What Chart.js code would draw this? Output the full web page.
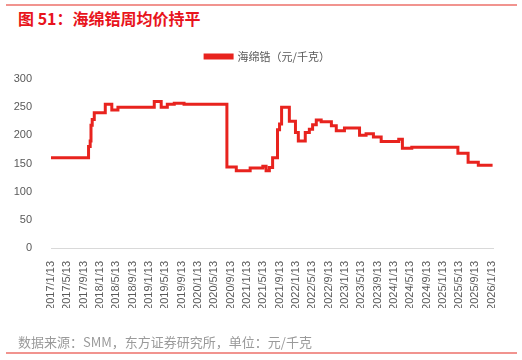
<!DOCTYPE html>
<html><head><meta charset="utf-8">
<script src="https://cdn.jsdelivr.net/npm/chart.js@4/dist/chart.umd.min.js"></script>
<style>
html,body{margin:0;padding:0;background:#fff;}
#wrap{position:relative;width:522px;height:360px;overflow:hidden;}
#c{position:absolute;left:0;top:0;}
.rule{position:absolute;left:6px;width:511px;height:2px;background:#f1948f;}
#title{position:absolute;left:18px;top:6px;font:bold 16px "Noto Sans CJK SC",sans-serif;color:#e8141c;white-space:nowrap;}
#src{position:absolute;left:18px;top:332px;font:13px "Noto Sans CJK SC",sans-serif;color:#9a9a9a;white-space:nowrap;}
</style></head>
<body><div id="wrap">
<div class="rule" style="top:4px"></div>
<div id="title">图 51：海绵锆周均价持平</div>
<canvas id="c" width="522" height="360"></canvas>
<div id="src">数据来源：SMM，东方证券研究所，单位：元/千克</div>
<div class="rule" style="top:352px"></div>
</div>
<script>
// months since 2017/1/13 where the price changes
const months = [0, 9.2, 9.6, 9.8, 10.1, 10.6, 13.3, 14.9, 16.4, 25.3, 27.0, 28.5, 30.2, 32.6,
  43.1, 45.4, 48.8, 51.9, 52.7, 53.5, 54.3, 55.5, 56.0, 56.5, 58.4, 59.9, 60.6, 62.3, 63.3,
  64.1, 65.0, 66.2, 68.7, 69.9, 71.9, 75.6, 77.2, 79.0, 80.9, 85.2, 86.1, 88.4, 99.7, 102.2,
  104.7, 108.2];
const prices = [160, 180, 190, 218, 228, 240, 255, 245, 250, 260, 250, 255, 257, 255,
  144, 137, 142, 145, 137, 143, 160, 210, 220, 250, 225, 205, 190, 205, 211,
  219, 227, 224, 217, 208, 213, 200, 203, 197, 189, 193, 177, 179, 168, 152,
  147, 147];
const tickMonths = [0,4,8,12,16,20,24,28,32,36,40,44,48,52,56,60,64,68,72,76,80,84,88,92,96,100,104,108];
const tickLabels = ["2017/1/13","2017/5/13","2017/9/13","2018/1/13","2018/5/13","2018/9/13",
  "2019/1/13","2019/5/13","2019/9/13","2020/1/13","2020/5/13","2020/9/13","2021/1/13",
  "2021/5/13","2021/9/13","2022/1/13","2022/5/13","2022/9/13","2023/1/13","2023/5/13",
  "2023/9/13","2024/1/13","2024/5/13","2024/9/13","2025/1/13","2025/5/13","2025/9/13","2026/1/13"];
const yTicks = [0,50,100,150,200,250,300];
const seriesName = "海绵锆（元/千克）";

const legendGap = {
  id:'legendGap',
  afterInit(chart){
    const lg = chart.legend;
    if(!lg) return;
    const orig = lg.fit;
    lg.fit = function(){ orig.call(this); this.height += 7; };
  },
  afterLayout(chart){
    const lg = chart.legend;
    if(!lg) return;
    lg.left += 21; lg.right += 21;
  }
};

const pts = months.map((m,i)=>({x:m,y:prices[i]}));
new Chart(document.getElementById('c'), {
  type:'line',
  data:{datasets:[{label:seriesName,data:pts,borderColor:'#e8231e',backgroundColor:'#e8231e',
    borderWidth:3,pointRadius:0,stepped:'before',clip:false}]},
  plugins:[legendGap],
  options:{
    responsive:false,animation:false,
    layout:{padding:{left:0,right:29,top:41,bottom:52}},
    plugins:{
      legend:{display:true,position:'top',
        labels:{boxWidth:27,boxHeight:3,padding:10,color:'#595959',
          font:{size:11,family:'"Noto Sans CJK SC", sans-serif'}}},
      tooltip:{enabled:false}
    },
    scales:{
      x:{type:'linear',min:0,max:108.3,
        afterBuildTicks:(s)=>{s.ticks=tickMonths.map(v=>({value:v}));},
        afterFit:(s)=>{s.height=60;},
        grid:{display:false},
        border:{display:true,color:'#d9d9d9',width:1},
        ticks:{autoSkip:false,minRotation:90,maxRotation:90,padding:5,color:'#595959',
          font:{size:11,family:'"Liberation Sans", Arial, sans-serif'},
          callback:(v)=>{const i=tickMonths.indexOf(v);return i>=0?tickLabels[i]:'';}}
      },
      y:{min:0,max:300,
        afterBuildTicks:(s)=>{s.ticks=yTicks.map(v=>({value:v}));},
        afterFit:(s)=>{s.width=51;},
        grid:{display:false},border:{display:false},
        ticks:{padding:11,color:'#595959',font:{size:11,family:'"Liberation Sans", Arial, sans-serif'}}
      }
    }
  }
});
</script>
</body></html>
